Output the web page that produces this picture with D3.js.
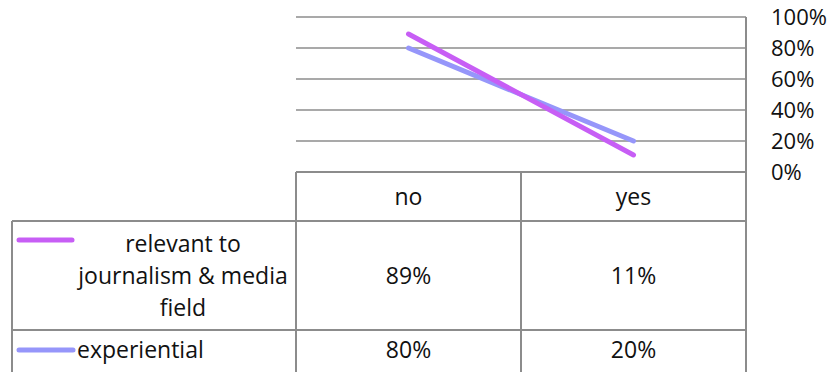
<!DOCTYPE html>
<html>
<head>
<meta charset="utf-8">
<script src="https://cdn.jsdelivr.net/npm/d3@7"></script>
<style>
  html, body { margin: 0; padding: 0; background: #fff; }
  svg { display: block; font-family: "Open Sans", sans-serif; }
</style>
</head>
<body>
<svg id="chart" width="834" height="372"></svg>
<script>
// Categories and series
const categories = ["no", "yes"];
const seriesNames = ["relevant to journalism & media field", "experiential"];
const seriesLabelLines = [["relevant to", "journalism & media", "field"], ["experiential"]];
const relevantValues = [0.89, 0.11];
const experientialValues = [0.80, 0.20];
const yTicks = [0, 0.2, 0.4, 0.6, 0.8, 1.0];
const seriesColors = ["#c75ef5", "#9696fa"];

const series = [
  { name: seriesNames[0], lines: seriesLabelLines[0], values: relevantValues, color: seriesColors[0] },
  { name: seriesNames[1], lines: seriesLabelLines[1], values: experientialValues, color: seriesColors[1] }
];

const svg = d3.select("#chart");
const plotLeft = 296, plotRight = 746, plotTop = 17, plotBottom = 172;
const tableLeft = 12;
const rowBottoms = [221, 330, 385];
const gridColor = "#8c8c8c";
const fontSize = 23;

const x = d3.scaleBand().domain(categories).range([plotLeft, plotRight]).padding(0);
const y = d3.scaleLinear().domain([0, 1]).range([plotBottom, plotTop]);
const pct = d3.format(".0%");

// Horizontal gridlines
svg.append("g").selectAll("line").data(yTicks.filter(d => d > 0)).join("line")
  .attr("x1", plotLeft).attr("x2", plotRight)
  .attr("y1", d => y(d)).attr("y2", d => y(d))
  .attr("stroke", gridColor).attr("stroke-width", 1.5);

// Right plot border
svg.append("line")
  .attr("x1", plotRight).attr("x2", plotRight)
  .attr("y1", plotTop).attr("y2", 372)
  .attr("stroke", gridColor).attr("stroke-width", 2);

// Value axis on the right
const axis = d3.axisRight(y).tickValues(yTicks).tickFormat(pct).tickSize(0).tickPadding(0);
const axisG = svg.append("g").attr("transform", `translate(${771},0)`).call(axis);
axisG.select(".domain").remove();
axisG.selectAll("text")
  .attr("font-size", fontSize - 1).attr("font-family", "Open Sans, sans-serif")
  .attr("fill", "#111").attr("dy", "0.35em");

// Data table grid
const tbl = svg.append("g").attr("stroke", gridColor).attr("stroke-width", 2).attr("fill", "none");
// header row: top and vertical lines
tbl.append("line").attr("x1", plotLeft).attr("x2", plotRight).attr("y1", plotBottom).attr("y2", plotBottom);
tbl.append("line").attr("x1", plotLeft).attr("x2", plotLeft).attr("y1", plotBottom).attr("y2", 372);
tbl.append("line").attr("x1", x("yes")).attr("x2", x("yes")).attr("y1", plotBottom).attr("y2", 372);
// row separators
tbl.selectAll("line.row").data(rowBottoms.slice(0, 2)).join("line").attr("class", "row")
  .attr("x1", tableLeft).attr("x2", plotRight).attr("y1", d => d).attr("y2", d => d);
tbl.append("line").attr("x1", tableLeft).attr("x2", tableLeft).attr("y1", rowBottoms[0]).attr("y2", 372);

// Header labels
svg.append("g").selectAll("text").data(categories).join("text")
  .attr("x", d => x(d) + x.bandwidth() / 2)
  .attr("y", (plotBottom + rowBottoms[0]) / 2)
  .attr("dy", "0.35em").attr("text-anchor", "middle")
  .attr("font-size", fontSize).attr("fill", "#111").text(d => d);

// Rows: legend key, series name and values
series.forEach((s, i) => {
  const top = rowBottoms[i], bottom = i === 0 ? rowBottoms[1] : 372 + 16;
  const mid = i === 0 ? (top + bottom) / 2 : 350;
  const g = svg.append("g");
  if (s.lines.length > 1) {
    g.append("line").attr("x1", 19).attr("x2", 72).attr("y1", 240).attr("y2", 240)
      .attr("stroke", s.color).attr("stroke-width", 5).attr("stroke-linecap", "round");
    g.selectAll("text.name").data(s.lines).join("text").attr("class", "name")
      .attr("x", 183).attr("y", (d, k) => mid + (k - 1) * 32)
      .attr("dy", "0.35em").attr("text-anchor", "middle")
      .attr("font-size", fontSize).attr("fill", "#111").text(d => d);
  } else {
    g.append("line").attr("x1", 19).attr("x2", 73).attr("y1", mid).attr("y2", mid)
      .attr("stroke", s.color).attr("stroke-width", 5).attr("stroke-linecap", "round");
    g.append("text").attr("x", 77).attr("y", mid).attr("dy", "0.35em")
      .attr("font-size", fontSize).attr("fill", "#111").text(s.lines[0]);
  }
  g.selectAll("text.val").data(s.values).join("text").attr("class", "val")
    .attr("x", (d, k) => x(categories[k]) + x.bandwidth() / 2)
    .attr("y", mid).attr("dy", "0.35em").attr("text-anchor", "middle")
    .attr("font-size", fontSize).attr("fill", "#111").text(d => pct(d));
});

// Series lines
const line = d3.line().x((d, k) => x(categories[k]) + x.bandwidth() / 2).y(d => y(d));
svg.append("g").selectAll("path").data(series.slice().reverse()).join("path")
  .attr("d", d => line(d.values))
  .attr("fill", "none").attr("stroke", d => d.color)
  .attr("stroke-width", 5).attr("stroke-linecap", "round");
</script>
</body>
</html>
